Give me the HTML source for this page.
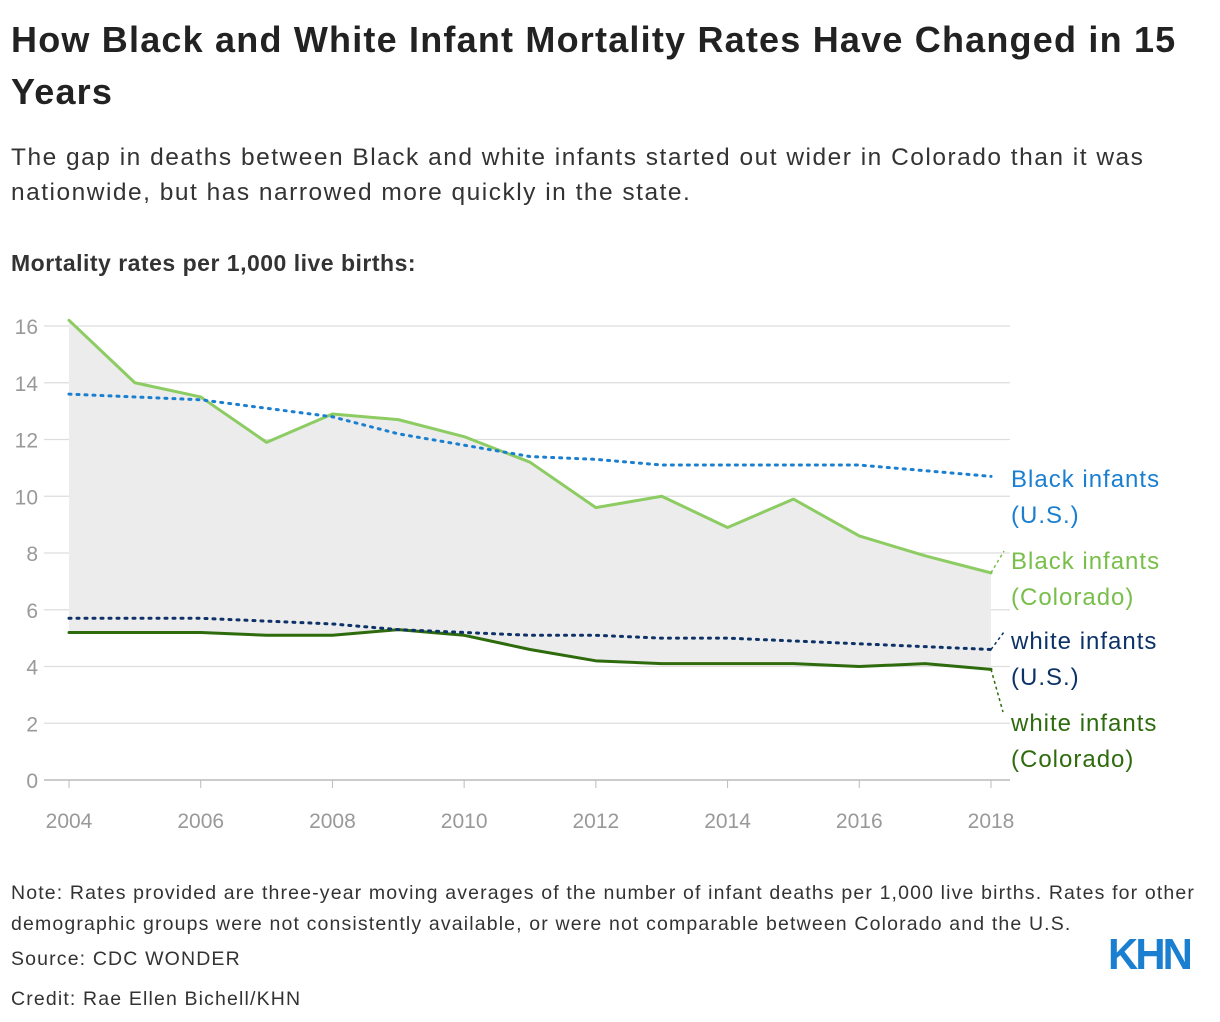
<!DOCTYPE html>
<html><head><meta charset="utf-8"><style>
body{margin:0;background:#fff;font-family:"Liberation Sans",sans-serif;color:#222;}
#wrap{position:relative;width:1220px;height:1022px;overflow:hidden}
h1{position:absolute;left:11px;top:14px;margin:0;font-size:36px;line-height:52px;font-weight:bold;width:1210px;letter-spacing:1.2px}
.sub{position:absolute;left:11px;top:140px;font-size:24.5px;line-height:35px;color:#333;width:1210px;letter-spacing:1.5px}
.lbl{position:absolute;left:11px;top:250px;font-size:23px;font-weight:bold;color:#333;letter-spacing:0.5px}
.note{position:absolute;left:11px;font-size:19.5px;color:#333;line-height:31px;letter-spacing:1.15px;white-space:nowrap}
</style></head><body><div id="wrap">
<h1>How Black and White Infant Mortality Rates Have Changed in 15<br>Years</h1>
<div class="sub">The gap in deaths between Black and white infants started out wider in Colorado than it was<br>nationwide, but has narrowed more quickly in the state.</div>
<div class="lbl">Mortality rates per 1,000 live births:</div>
<svg id="chart" width="1220" height="850" style="position:absolute;left:0;top:0"></svg>
<div class="note" style="top:878px">Note: Rates provided are three-year moving averages of the number of infant deaths per 1,000 live births. Rates for other<br>demographic groups were not consistently available, or were not comparable between Colorado and the U.S.</div>
<div class="note" style="top:944px">Source: CDC WONDER</div>
<div class="note" style="top:984px">Credit: Rae Ellen Bichell/KHN</div>
<div style="position:absolute;left:1108px;top:930px;font-size:44px;font-weight:900;color:#1a7fd0;letter-spacing:-3px;transform:scaleX(0.95);transform-origin:left">KHN</div>
</div>
<script>
const years=[2004,2005,2006,2007,2008,2009,2010,2011,2012,2013,2014,2015,2016,2017,2018];
const blackCO=[16.2,14.0,13.5,11.9,12.9,12.7,12.1,11.2,9.6,10.0,8.9,9.9,8.6,7.9,7.3];
const blackUS=[13.6,13.5,13.4,13.1,12.8,12.2,11.8,11.4,11.3,11.1,11.1,11.1,11.1,10.9,10.7];
const whiteUS=[5.7,5.7,5.7,5.6,5.5,5.3,5.2,5.1,5.1,5.0,5.0,4.9,4.8,4.7,4.6];
const whiteCO=[5.2,5.2,5.2,5.1,5.1,5.3,5.1,4.6,4.2,4.1,4.1,4.1,4.0,4.1,3.9];
const yTicks=[0,2,4,6,8,10,12,14,16];
const xTicks=[2004,2006,2008,2010,2012,2014,2016,2018];
const NS='http://www.w3.org/2000/svg';
const svg=document.getElementById('chart');
const x=v=>69+(v-2004)*(991-69)/14;
const y=v=>780-v*(780-326)/16;
function mk(t,a){const e=document.createElementNS(NS,t);for(const k in a)e.setAttribute(k,a[k]);svg.appendChild(e);return e;}
yTicks.forEach(t=>{
 const l=mk('line',{x1:44,x2:1010,y1:y(t),y2:y(t),stroke:t==0?'#bbb':'#ddd','stroke-width':t==0?1.5:1.2});
 
 
 const tx=mk('text',{x:38,y:y(t)+8,'text-anchor':'end','font-size':21,fill:'#999','font-family':'Liberation Sans'});
 tx.textContent=t;
 
 
});
xTicks.forEach(t=>{
 mk('line',{x1:x(t),x2:x(t),y1:780,y2:788,stroke:'#bbb'});
 const tx=mk('text',{x:x(t),y:828,'text-anchor':'middle','font-size':21,fill:'#999','font-family':'Liberation Sans'});
 tx.textContent=t;
 
 
});
let d=years.map((yr,i)=>(i?'L':'M')+x(yr)+','+y(blackCO[i])).join('');
for(let i=years.length-1;i>=0;i--)d+='L'+x(years[i])+','+y(whiteCO[i]);
const area=mk('path',{d:d+'Z',fill:'#ececec'});


function line(arr,col,dash,name){
 const p=mk('path',{d:years.map((yr,i)=>(i?'L':'M')+x(yr)+','+y(arr[i])).join(''),fill:'none',stroke:col,'stroke-width':3,'stroke-dasharray':dash?'2 6':'none','stroke-linecap':'round','stroke-linejoin':'round'});
 
 
}
line(blackCO,'#8dcc63',false,'line-black-colorado');
line(whiteCO,'#2e6b0d',false,'line-white-colorado');
line(blackUS,'#1a7fd0',true,'line-black-us');
line(whiteUS,'#0d3268',true,'line-white-us');
const labels=[[blackUS,'#1a7fd0','Black infants','(U.S.)',479],[blackCO,'#78bf4a','Black infants','(Colorado)',561],[whiteUS,'#0d3268','white infants','(U.S.)',641],[whiteCO,'#2e6b0d','white infants','(Colorado)',723]];
labels.forEach(([arr,col,a,b,ty],i)=>{
 const ly=y(arr[14]);
 if(i==1){mk('line',{x1:x(2018),y1:ly,x2:1004,y2:551,stroke:col,'stroke-width':1.5,'stroke-dasharray':'3 3'});}
 if(i==2){mk('line',{x1:x(2018),y1:ly,x2:1004,y2:632,stroke:col,'stroke-width':1.5,'stroke-dasharray':'3 3'});}
 if(i==3){mk('line',{x1:x(2018),y1:ly,x2:1003,y2:712,stroke:col,'stroke-width':1.5,'stroke-dasharray':'3 3'});}
 const t=mk('text',{x:1011,y:ty+8,'font-size':24,'letter-spacing':1,fill:col,'font-family':'Liberation Sans'});
 t.textContent=a;
 
 
 const t2=mk('text',{x:1011,y:ty+44,'font-size':24,'letter-spacing':1,fill:col,'font-family':'Liberation Sans'});
 t2.textContent=b;
 
 
});
</script>
</body></html>
